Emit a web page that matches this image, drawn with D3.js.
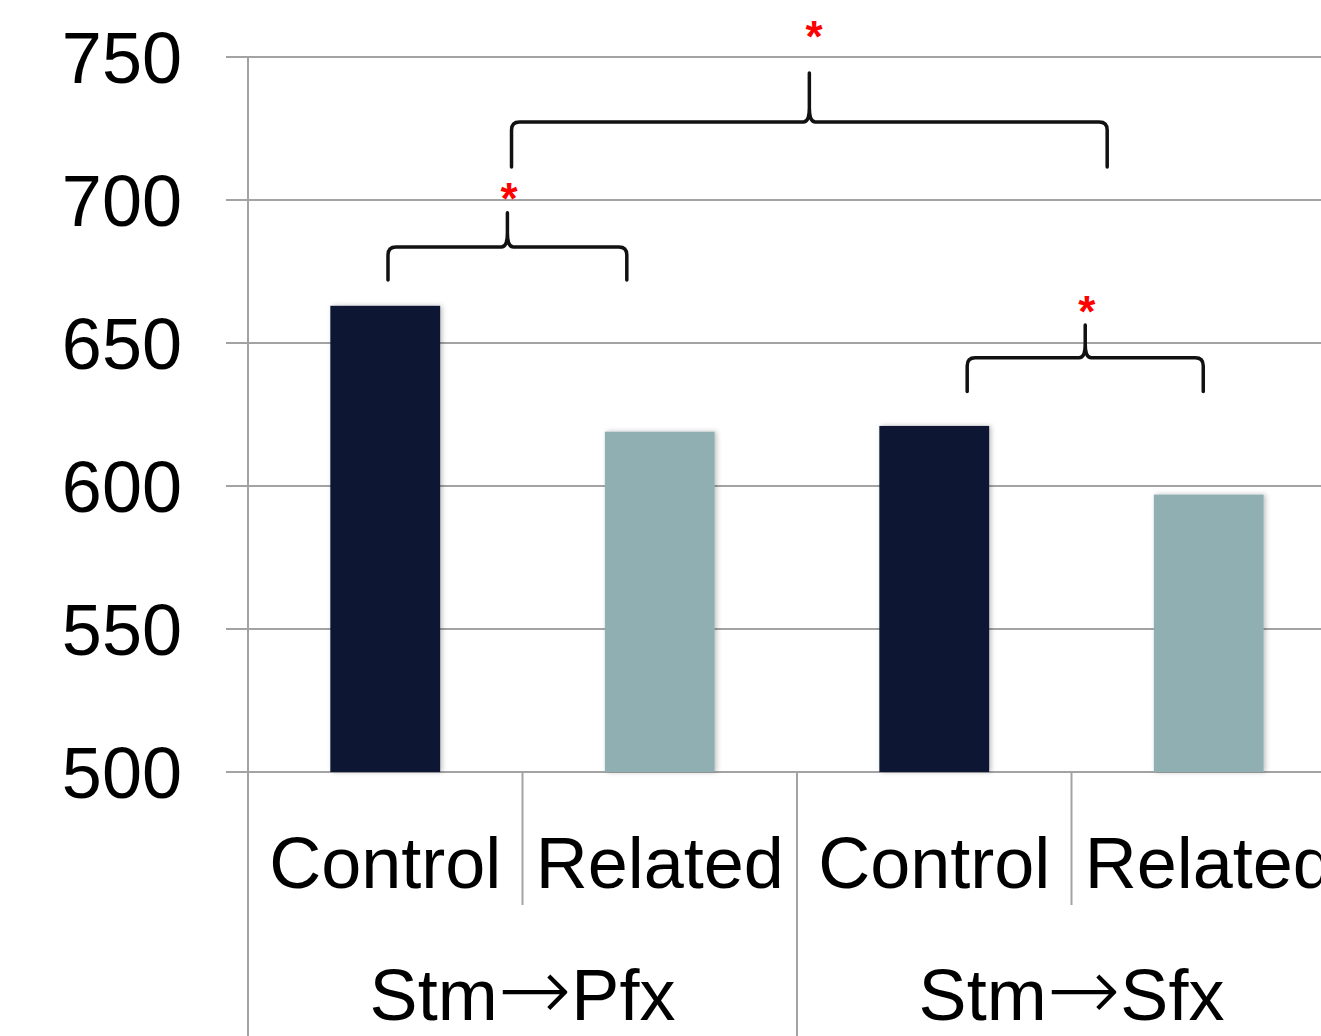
<!DOCTYPE html>
<html>
<head>
<meta charset="utf-8">
<script src="https://cdn.jsdelivr.net/npm/d3@7"></script>
<style>
  body { margin: 0; background: #fff; overflow: hidden; }
  text { font-family: "Liberation Sans", Arial, sans-serif; }
</style>
</head>
<body>
<div id="chart"></div>
<script>
// data
var groupStart = ["Stm", "Stm"]
var groupEnd = ["Pfx", "Sfx"]
var conditions = ["Control", "Related", "Control", "Related"]
var values = [663, 619, 621, 597]
var barColors = ["#0a1430", "#8fafb3", "#0a1430", "#8fafb3"]
var yTicks = [500, 550, 600, 650, 700, 750]

// significance braces: from / to in bar slot units, y values for foot, bar, tip
var braceFrom = [0.51, 0.96, 2.62]
var braceTo = [1.38, 3.13, 3.48]
var braceFoot = [672, 711.5, 633]
var braceBar = [683.6, 727.3, 644.8]
var braceTip = [695.5, 744.4, 656.3]
// asterisk centres
var starX = [0.951, 2.062, 3.056]
var starY = [703.5, 760.1, 664]

var width = 1321, height = 1036
var marginLeft = 248, marginTop = 57, plotBottom = 772
var step = 274.5

var svg = d3.select("#chart").append("svg")
  .attr("width", width)
  .attr("height", height)

var defs = svg.append("defs")
var f = defs.append("filter").attr("id", "shadow")
  .attr("x", "-10%").attr("y", "-10%").attr("width", "130%").attr("height", "130%")
f.append("feDropShadow").attr("dx", 2).attr("dy", 0).attr("stdDeviation", 2.5)
  .attr("flood-color", "#000").attr("flood-opacity", 0.25)

var y = d3.scaleLinear().domain([500, 750]).range([plotBottom, marginTop])
var x = d3.scaleBand().domain(d3.range(values.length))
  .range([marginLeft, marginLeft + step * values.length]).paddingInner(0).paddingOuter(0)
var slot = d3.scaleLinear().domain([0, values.length]).range([marginLeft, marginLeft + step * values.length])

// gridlines
svg.selectAll(".grid").data(yTicks).enter().append("line")
  .attr("x1", marginLeft - 22).attr("x2", width)
  .attr("y1", function(d) { return y(d) }).attr("y2", function(d) { return y(d) })
  .attr("stroke", "#a3a3a3").attr("stroke-width", 2)

// y axis
svg.append("line").attr("x1", marginLeft).attr("x2", marginLeft)
  .attr("y1", marginTop).attr("y2", height)
  .attr("stroke", "#a3a3a3").attr("stroke-width", 2)

svg.selectAll(".ylab").data(yTicks).enter().append("text")
  .attr("x", marginLeft - 66).attr("y", function(d) { return y(d) })
  .attr("dy", "0.36em")
  .attr("text-anchor", "end")
  .attr("font-size", 72)
  .attr("fill", "#000")
  .text(function(d) { return d })

// bars
svg.selectAll(".bar").data(values).enter().append("rect")
  .attr("x", function(d, i) { return x(i) + x.bandwidth() * 0.3 })
  .attr("width", x.bandwidth() * 0.4)
  .attr("y", function(d) { return y(d) })
  .attr("height", function(d) { return y(500) - y(d) })
  .attr("fill", function(d, i) { return barColors[i] })
  .attr("filter", "url(#shadow)")

// category separators
svg.selectAll(".sep").data(d3.range(1, values.length)).enter().append("line")
  .attr("x1", function(d) { return x(d) }).attr("x2", function(d) { return x(d) })
  .attr("y1", plotBottom)
  .attr("y2", function(d) { return d % 2 == 0 ? height : 905 })
  .attr("stroke", "#a3a3a3").attr("stroke-width", 2)

// category labels
svg.selectAll(".clab").data(conditions).enter().append("text")
  .attr("x", function(d, i) { return x(i) + x.bandwidth() / 2 })
  .attr("y", 888)
  .attr("text-anchor", "middle")
  .attr("font-size", 72)
  .text(function(d) { return d })

// group labels
var glab = svg.selectAll(".glab").data(groupStart).enter().append("text")
  .attr("x", function(d, i) { return x(i * 2 + 1) })
  .attr("y", 1020)
  .attr("text-anchor", "middle")
  .attr("font-size", 72)
glab.append("tspan").text(function(d) { return d })
glab.append("tspan").attr("font-family", "DejaVu Sans").attr("font-weight", 200)
  .attr("font-size", 88).attr("dx", 0).text("\u2192")
glab.append("tspan").text(function(d, i) { return groupEnd[i] })

// braces
function bracePath(i) {
  var x0 = slot(braceFrom[i]), x1 = slot(braceTo[i])
  var yf = y(braceFoot[i]), yb = y(braceBar[i]), yt = y(braceTip[i])
  var xm = (x0 + x1) / 2, r = 8
  return "M" + x0 + "," + yf +
    "L" + x0 + "," + (yb + r) +
    "Q" + x0 + "," + yb + " " + (x0 + r) + "," + yb +
    "L" + (xm - 6) + "," + yb +
    "Q" + xm + "," + yb + " " + xm + "," + (yb - 14) +
    "L" + xm + "," + yt +
    "M" + xm + "," + (yb - 14) +
    "Q" + xm + "," + yb + " " + (xm + 6) + "," + yb +
    "L" + (x1 - r) + "," + yb +
    "Q" + x1 + "," + yb + " " + x1 + "," + (yb + r) +
    "L" + x1 + "," + yf
}

svg.selectAll(".brace").data(braceFrom).enter().append("path")
  .attr("d", function(d, i) { return bracePath(i) })
  .attr("fill", "none")
  .attr("stroke", "#111")
  .attr("stroke-width", 3.5)
  .attr("stroke-linecap", "round")

svg.selectAll(".star").data(starX).enter().append("text")
  .attr("x", function(d) { return slot(d) })
  .attr("y", function(d, i) { return y(starY[i]) + 24 })
  .attr("text-anchor", "middle")
  .attr("font-size", 44)
  .attr("font-weight", "bold")
  .attr("fill", "#ff0000")
  .text("*")
</script>
</body>
</html>
